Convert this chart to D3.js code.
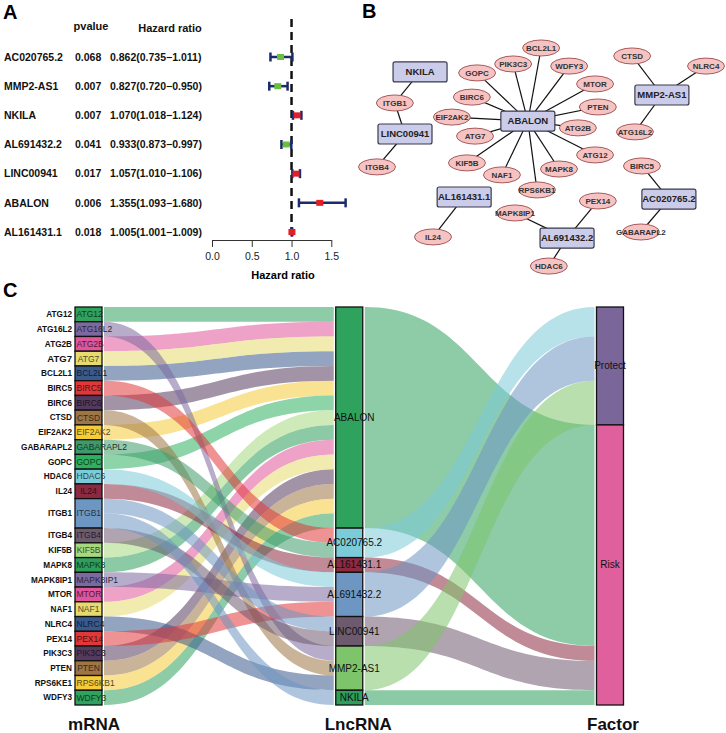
<!DOCTYPE html>
<html><head><meta charset="utf-8">
<script src="https://cdn.jsdelivr.net/npm/d3@7"></script>
<style>body{margin:0;background:#fff}svg{display:block;font-family:"Liberation Sans",Arial,sans-serif}</style>
</head><body><svg id="c" width="726" height="733"></svg>
<script>
// ---------- Panel A data ----------
const genes = ["AC020765.2","MMP2-AS1","NKILA","AL691432.2","LINC00941","ABALON","AL161431.1"];
const pvals = ["0.068","0.007","0.007","0.041","0.017","0.006","0.018"];
const hr = [0.862,0.827,1.070,0.933,1.057,1.355,1.005];
const hrLow = [0.735,0.720,1.018,0.873,1.010,1.093,1.001];
const hrHigh = [1.011,0.950,1.124,0.997,1.106,1.680,1.009];
const hrTicks = [0,0.5,1,1.5];

// ---------- Panel B data (network layout units 0-100) ----------
const nodeNames = ["NKILA","ITGB1","LINC00941","ITGB4","ABALON","BCL2L1","PIK3C3","WDFY3","GOPC","MTOR","BIRC6","PTEN","EIF2AK2","ATG2B","ATG7","ATG12","KIF5B","MAPK8","NAF1","RPS6KB1","CTSD","NLRC4","MMP2-AS1","ATG16L2","BIRC5","AC020765.2","GABARAPL2","AL161431.1","IL24","MAPK8IP1","PEX14","AL691432.2","HDAC6"];
const nodeType = ["lnc","m","lnc","m","lnc","m","m","m","m","m","m","m","m","m","m","m","m","m","m","m","m","m","lnc","m","m","lnc","m","lnc","m","m","m","lnc","m"];
const nodeLX = [14.3,7.1,10.0,2.0,45.1,48.9,40.9,56.9,30.6,64.3,29.1,65.1,23.4,59.4,30.0,64.3,27.7,54.0,37.7,47.7,74.9,96.0,83.4,75.7,77.7,85.4,77.4,26.9,18.0,41.4,65.1,56.3,51.1];
const nodeLY = [13.6,26.8,40.0,54.0,34.5,3.4,10.2,11.1,14.0,18.7,24.3,28.5,32.8,37.4,40.9,48.9,52.3,54.9,57.4,63.8,6.8,11.1,23.4,39.1,53.6,67.7,81.7,66.8,83.8,73.6,68.5,84.3,96.2];

// ---------- Panel C data ----------
const mrnas = ["ATG12","ATG16L2","ATG2B","ATG7","BCL2L1","BIRC5","BIRC6","CTSD","EIF2AK2","GABARAPL2","GOPC","HDAC6","IL24","ITGB1","ITGB4","KIF5B","MAPK8","MAPK8IP1","MTOR","NAF1","NLRC4","PEX14","PIK3C3","PTEN","RPS6KB1","WDFY3"];
const mrnaOuterLabels = ["ATG12","ATG16L2","ATG2B","ATG7","BCL2L1","BIRC5","BIRC6","CTSD","EIF2AK2","GABARAPL2","GOPC","HDAC6","IL24","ITGB1","ITGB4","KIF5B","MAPK8","MAPK8IP1","MTOR","NAF1","NLRC4","PEX14","PIK3C3","PTEN","RPS6KE1","WDFY3"];
const mrnaColors = ["#2fa35e","#7b6aa0","#e0559b","#e5db6e","#3a5a8c","#e0383a","#553a5e","#9e7646","#f5cb3a","#3e9a6a","#2fb060","#7ccbd8","#8c2a42","#6d96c3","#6e5a6e","#a6d97e","#2e9e5b","#7b6aa0","#e0559b","#e5db6e","#3a5a8c","#e0383a","#553a5e","#9e7646","#f5cb3a","#2fa35e"];
const lncs = ["ABALON","AC020765.2","AL161431.1","AL691432.2","LINC00941","MMP2-AS1","NKILA"];
const lncColors = ["#2fa35e","#7ccbd8","#8c2a42","#6d96c3","#6e5a6e","#7dc46a","#2e9e5b"];
const lncFactor = ["Risk","Protect","Risk","Protect","Risk","Protect","Risk"];
const factors = ["Protect","Risk"];
const factorColors = ["#7b6699","#e0609e"];
const linkMrna = ["BCL2L1","PIK3C3","WDFY3","MTOR","PTEN","ATG2B","ATG12","MAPK8","RPS6KB1","NAF1","KIF5B","ATG7","EIF2AK2","BIRC6","GOPC","CTSD","NLRC4","ATG16L2","BIRC5","GABARAPL2","IL24","MAPK8IP1","PEX14","HDAC6","ITGB1","ITGB4","ITGB1"];
const linkLnc = ["ABALON","ABALON","ABALON","ABALON","ABALON","ABALON","ABALON","ABALON","ABALON","ABALON","ABALON","ABALON","ABALON","ABALON","ABALON","MMP2-AS1","MMP2-AS1","MMP2-AS1","AC020765.2","AC020765.2","AL161431.1","AL691432.2","AL691432.2","AL691432.2","LINC00941","LINC00941","NKILA"];
const axisNames = ["mRNA","LncRNA","Factor"];

const svg = d3.select("#c");
const FONT = '"Liberation Sans",Arial,sans-serif';

// Panel letters
[["A",3,19],["B",362,18],["C",3,297]].forEach(([t,x,y])=>{
  svg.append("text").attr("x",x).attr("y",y).attr("font-size",20).attr("font-weight","bold").text(t);
});

// ================= Panel A =================
const fy = d3.scalePoint().domain(genes).range([57,232]);
const fx = d3.scaleLinear().domain([0,1.5]).range([212,331.3]);
const gA = svg.append("g").attr("font-size",10.5).attr("font-weight","bold").attr("fill","#111");
gA.append("text").attr("x",91).attr("y",26).attr("dy","0.35em").attr("text-anchor","middle").attr("font-size",11).text("pvalue");
gA.append("text").attr("x",170).attr("y",28).attr("dy","0.35em").attr("text-anchor","middle").attr("font-size",11).text("Hazard ratio");
const f3 = d3.format(".3f");
genes.forEach((g,i)=>{
  const y = fy(g);
  gA.append("text").attr("x",4).attr("y",y).attr("dy","0.35em").text(g);
  gA.append("text").attr("x",75).attr("y",y).attr("dy","0.35em").text(pvals[i]);
  gA.append("text").attr("x",110).attr("y",y).attr("dy","0.35em").text(`${f3(hr[i])}(${f3(hrLow[i])}\u2212${f3(hrHigh[i])})`);
});
// dashed reference line
svg.append("line").attr("x1",fx(1)).attr("x2",fx(1)).attr("y1",19).attr("y2",240)
  .attr("stroke","#111").attr("stroke-width",2.5).attr("stroke-dasharray","8,5");
// error bars
const eb = svg.append("g");
genes.forEach((g,i)=>{
  const y = fy(g);
  eb.append("line").attr("x1",fx(hrLow[i])).attr("x2",fx(hrHigh[i])).attr("y1",y).attr("y2",y).attr("stroke","#1c2b6b").attr("stroke-width",2.5);
  [hrLow[i],hrHigh[i]].forEach(v=>eb.append("line").attr("x1",fx(v)).attr("x2",fx(v)).attr("y1",y-4.5).attr("y2",y+4.5).attr("stroke","#1c2b6b").attr("stroke-width",2.5));
  eb.append("rect").attr("x",fx(hr[i])-3.5).attr("y",y-3).attr("width",7).attr("height",6)
    .attr("fill",hr[i]<1?"#6bbf3f":"#e41e26");
});
const ax = svg.append("g").attr("transform","translate(0,240)")
  .call(d3.axisBottom(fx).tickValues(hrTicks).tickFormat(d3.format(".1f")).tickSize(7).tickSizeOuter(0).tickPadding(6));
ax.selectAll("path,line").attr("stroke","#333");
ax.selectAll("text").attr("font-size",10.5).attr("font-family",FONT).attr("fill","#222");
svg.append("text").attr("x",283).attr("y",275).attr("dy","0.35em").attr("text-anchor","middle")
  .attr("font-size",11).attr("font-weight","bold").text("Hazard ratio");

// ================= Panel B =================
const bx = d3.scaleLinear().domain([0,100]).range([370,720]);
const by = d3.scaleLinear().domain([0,100]).range([40,275]);
const nodeIdx = new Map(nodeNames.map((n,i)=>[n,i]));
const gB = svg.append("g");
linkMrna.forEach((m,i)=>{
  const a = nodeIdx.get(linkLnc[i]), b = nodeIdx.get(m);
  gB.append("line").attr("x1",bx(nodeLX[a])).attr("y1",by(nodeLY[a])).attr("x2",bx(nodeLX[b])).attr("y2",by(nodeLY[b]))
    .attr("stroke","#111").attr("stroke-width",1.2);
});
nodeNames.forEach((n,i)=>{
  const x=bx(nodeLX[i]), y=by(nodeLY[i]);
  if(nodeType[i]==="lnc"){
    gB.append("rect").attr("x",x-27).attr("y",y-10).attr("width",54).attr("height",20).attr("rx",2)
      .attr("fill","#cbcbea").attr("stroke","#3a3a4a").attr("stroke-width",1.2);
    gB.append("text").attr("x",x).attr("y",y).attr("dy","0.35em").attr("text-anchor","middle")
      .attr("font-size",9.5).attr("font-weight","bold").attr("fill","#222").text(n);
  } else {
    gB.append("ellipse").attr("cx",x).attr("cy",y).attr("rx",18.5).attr("ry",8)
      .attr("fill","#f6c3c3").attr("stroke","#a85a5a").attr("stroke-width",1);
    gB.append("text").attr("x",x).attr("y",y).attr("dy","0.35em").attr("text-anchor","middle")
      .attr("font-size",8).attr("font-weight","bold").attr("fill","#333").text(n);
  }
});

// ================= Panel C =================
const nLinks = linkMrna.length;
const sy = d3.scaleLinear().domain([0,nLinks]).range([307,705]);
const colX = d3.scalePoint().domain(axisNames).range([88.5,610]);
const BW = 27;
const mIdx = new Map(mrnas.map((d,i)=>[d,i]));
const lIdx = new Map(lncs.map((d,i)=>[d,i]));
const links = linkMrna.map((m,i)=>({m, l:linkLnc[i], mi:mIdx.get(m), li:lIdx.get(linkLnc[i])}));

const mStrata = [];
let acc=0;
mrnas.forEach((m,i)=>{
  const ls = links.filter(d=>d.mi===i).sort((a,b)=>a.li-b.li);
  const start=acc;
  ls.forEach(d=>{d.m0=acc; acc+=1;});
  mStrata.push({name:m, y0:start, y1:acc, color:mrnaColors[i], outer:mrnaOuterLabels[i]});
});
const lStrata=[]; acc=0;
lncs.forEach((l,i)=>{
  const ls = links.filter(d=>d.li===i).sort((a,b)=>a.mi-b.mi);
  const start=acc;
  ls.forEach(d=>{d.l0=acc; acc+=1;});
  lStrata.push({name:l, y0:start, y1:acc, color:lncColors[i], factor:lncFactor[i]});
});
const fStrata=[]; acc=0;
factors.forEach((f,i)=>{
  const start=acc;
  lStrata.filter(s=>s.factor===f).forEach(s=>{ s.f0=acc; acc+= (s.y1-s.y0); });
  fStrata.push({name:f, y0:start, y1:acc, color:factorColors[i]});
});

function ribbon(x0,a0,b0,x1,a1,b1){
  const xm=(x0+x1)/2;
  return `M${x0},${a0}C${xm},${a0} ${xm},${a1} ${x1},${a1}L${x1},${b1}C${xm},${b1} ${xm},${b0} ${x0},${b0}Z`;
}
const gF = svg.append("g");
const xL = colX("mRNA")+BW/2+2, xM0 = colX("LncRNA")-BW/2-2, xM1 = colX("LncRNA")+BW/2+2, xR = colX("Factor")-BW/2-2;
links.forEach(d=>{
  gF.append("path").attr("d",ribbon(xL,sy(d.m0),sy(d.m0+1),xM0,sy(d.l0),sy(d.l0+1)))
    .attr("fill",mrnaColors[d.mi]).attr("fill-opacity",0.55);
});
lStrata.forEach(s=>{
  const h=s.y1-s.y0;
  gF.append("path").attr("d",ribbon(xM1,sy(s.y0),sy(s.y1),xR,sy(s.f0),sy(s.f0+h)))
    .attr("fill",s.color).attr("fill-opacity",0.55);
});

function drawStrata(strata, axis){
  const cx = colX(axis);
  const g = svg.append("g");
  strata.forEach(s=>{
    g.append("rect").attr("x",cx-BW/2).attr("y",sy(s.y0)).attr("width",BW).attr("height",sy(s.y1)-sy(s.y0))
      .attr("fill",s.color).attr("stroke","#111").attr("stroke-width",1.3);
  });
  return g;
}
const gm = drawStrata(mStrata,"mRNA");
const gl = drawStrata(lStrata,"LncRNA");
const gf = drawStrata(fStrata,"Factor");

mStrata.forEach(s=>{
  const cx=colX("mRNA"), y=(sy(s.y0)+sy(s.y1))/2;
  const t = gm.append("text").attr("y",y).attr("dy","0.35em").attr("font-size",8.5)
    .attr("fill",d3.interpolateRgb(s.color,"#000")(0.65)).text(s.name);
  const w = t.node().getComputedTextLength();
  t.attr("x",Math.max(cx-w/2, cx-BW/2+1.5));
  gm.append("text").attr("x",cx-BW/2-3).attr("y",y).attr("dy","0.35em").attr("text-anchor","end")
    .attr("font-size",s.name==="ATG7"?9.5:8.2).attr("font-weight","bold").attr("fill","#111").text(s.outer);
});
lStrata.forEach(s=>{
  gl.append("text").attr("x",colX("LncRNA")+5).attr("y",(sy(s.y0)+sy(s.y1))/2).attr("dy","0.35em")
    .attr("text-anchor","middle").attr("font-size",10).attr("fill","#111").text(s.name);
});
fStrata.forEach(s=>{
  gf.append("text").attr("x",colX("Factor")).attr("y",(sy(s.y0)+sy(s.y1))/2).attr("dy","0.35em")
    .attr("text-anchor","middle").attr("font-size",10).attr("fill","#111").text(s.name);
});
const titleOff = [5.5,9,3];
axisNames.forEach((a,i)=>{
  svg.append("text").attr("x",colX(a)+titleOff[i]).attr("y",724).attr("dy","0.35em").attr("text-anchor","middle")
    .attr("font-size",17).attr("font-weight","bold").attr("fill","#111").text(a);
});
</script></body></html>
